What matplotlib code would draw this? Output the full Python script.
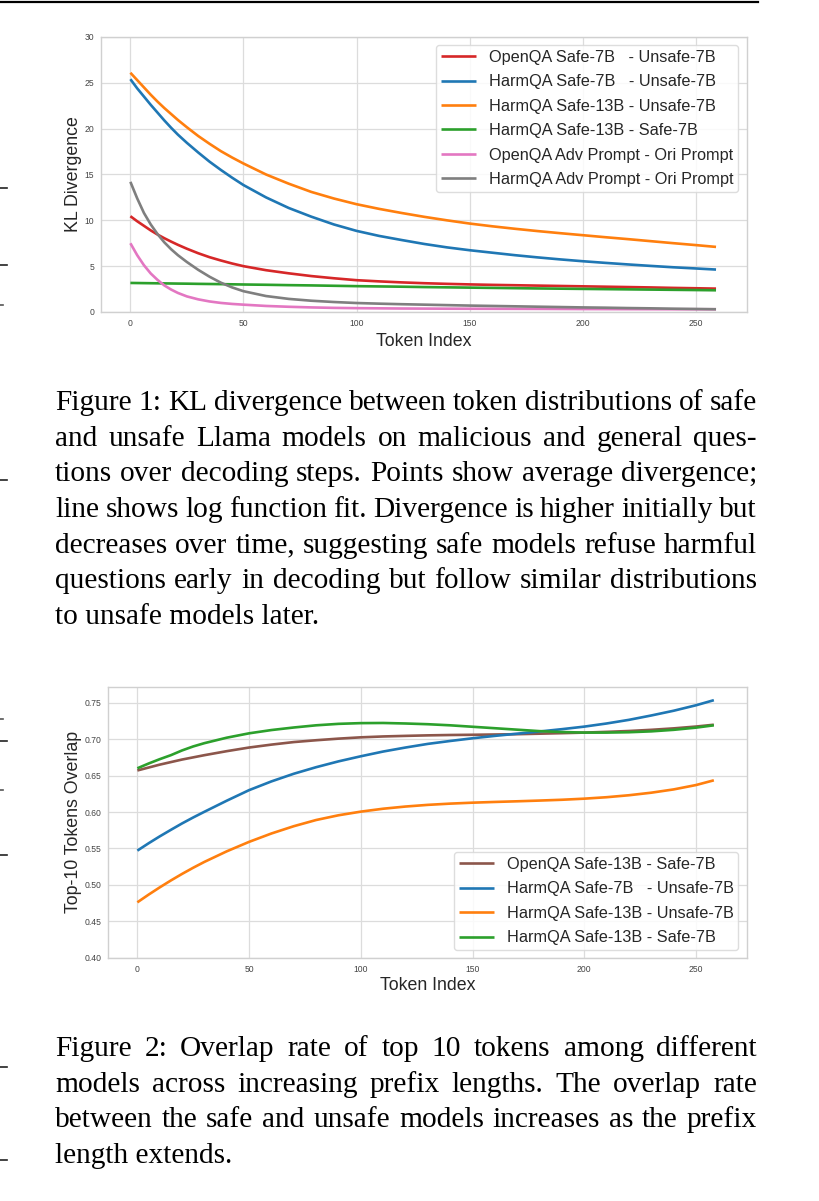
import matplotlib
matplotlib.use("Agg")
import matplotlib.pyplot as plt
from matplotlib.lines import Line2D

plt.rcParams['font.family'] = ['Liberation Sans', 'DejaVu Sans']

# ---------------- data: Figure 1 (KL divergence) ----------------
kl_x = [0, 3, 6, 9, 12, 15, 18, 21, 25, 30, 35, 40, 45, 50, 60, 70, 80, 90, 100, 110, 120, 130,
        140, 150, 160, 170, 180, 190, 200, 210, 220, 230, 240, 250, 259]
kl_openqa_safe7_unsafe7 = [10.45, 9.9, 9.4, 8.9, 8.45, 8.05, 7.68, 7.33, 6.9, 6.41, 5.98, 5.62, 5.29, 5.0,
                           4.56, 4.22, 3.92, 3.68, 3.47, 3.34, 3.23, 3.14, 3.07, 3.01, 2.96, 2.92, 2.88,
                           2.84, 2.8, 2.76, 2.72, 2.68, 2.63, 2.59, 2.55]
kl_harmqa_safe7_unsafe7 = [25.4, 24.4, 23.5, 22.6, 21.75, 20.9, 20.1, 19.35, 18.45, 17.4, 16.4, 15.5, 14.65, 13.85,
                           12.5, 11.35, 10.4, 9.55, 8.85, 8.3, 7.85, 7.42, 7.05, 6.74, 6.47, 6.2, 5.96,
                           5.74, 5.54, 5.36, 5.19, 5.03, 4.88, 4.75, 4.63]
kl_harmqa_safe13_unsafe7 = [26.1, 25.3, 24.5, 23.7, 22.95, 22.25, 21.6, 20.95, 20.15, 19.2, 18.35, 17.55, 16.85, 16.2,
                            15.0, 14.0, 13.1, 12.38, 11.76, 11.25, 10.8, 10.38, 10.0, 9.65, 9.35, 9.08, 8.83,
                            8.6, 8.38, 8.16, 7.95, 7.73, 7.51, 7.3, 7.1]
kl_harmqa_safe13_safe7 = [3.17, 3.16, 3.15, 3.14, 3.13, 3.12, 3.11, 3.10, 3.09, 3.07, 3.055, 3.04, 3.02, 3.0,
                          2.97, 2.93, 2.9, 2.86, 2.82, 2.79, 2.76, 2.72, 2.69, 2.66, 2.63, 2.6, 2.57,
                          2.545, 2.52, 2.495, 2.47, 2.445, 2.42, 2.395, 2.37]
kl_openqa_adv_ori = [7.5, 6.2, 5.1, 4.2, 3.5, 2.9, 2.45, 2.08, 1.7, 1.38, 1.15, 0.99, 0.88, 0.8,
                     0.66, 0.57, 0.5, 0.45, 0.42, 0.4, 0.38, 0.37, 0.36, 0.355, 0.35, 0.345, 0.34,
                     0.33, 0.32, 0.315, 0.31, 0.305, 0.3, 0.3, 0.3]
kl_harmqa_adv_ori = [14.2, 12.4, 10.8, 9.55, 8.5, 7.6, 6.85, 6.2, 5.45, 4.6, 3.85, 3.2, 2.68, 2.27,
                     1.74, 1.43, 1.23, 1.09, 0.98, 0.91, 0.85, 0.8, 0.75, 0.7, 0.66, 0.62, 0.58,
                     0.54, 0.5, 0.47, 0.43, 0.4, 0.36, 0.33, 0.3]
kl_labels = ["OpenQA Safe-7B   - Unsafe-7B", "HarmQA Safe-7B   - Unsafe-7B",
             "HarmQA Safe-13B - Unsafe-7B", "HarmQA Safe-13B - Safe-7B",
             "OpenQA Adv Prompt - Ori Prompt", "HarmQA Adv Prompt - Ori Prompt"]
kl_colors = ["#d62728", "#1f77b4", "#ff7f0e", "#2ca02c", "#e377c2", "#7f7f7f"]
kl_yticks = [0, 5, 10, 15, 20, 25, 30]

# ---------------- data: Figure 2 (top-10 overlap) ----------------
ov_x = [0, 5, 10, 15, 20, 25, 30, 40, 50, 60, 70, 80, 90, 100, 110, 120, 130, 140, 150, 160,
        170, 180, 190, 200, 210, 220, 230, 240, 250, 258]
ov_openqa_safe13_safe7 = [0.657, 0.661, 0.665, 0.6685, 0.672, 0.675, 0.678, 0.6835, 0.6885, 0.6925,
                          0.696, 0.6985, 0.7007, 0.7025, 0.7037, 0.7045, 0.7052, 0.7057, 0.706, 0.7064,
                          0.7068, 0.7075, 0.7082, 0.709, 0.71, 0.7112, 0.7128, 0.7148, 0.7173, 0.7198]
ov_harmqa_safe7_unsafe7 = [0.547, 0.557, 0.5665, 0.5755, 0.5843, 0.5925, 0.6003, 0.6155, 0.630, 0.642,
                           0.6525, 0.6615, 0.6695, 0.6765, 0.683, 0.6885, 0.6935, 0.6975, 0.7012, 0.7045,
                           0.7075, 0.7105, 0.7137, 0.7172, 0.7215, 0.7265, 0.7325, 0.739, 0.7465, 0.7535]
ov_harmqa_safe13_unsafe7 = [0.476, 0.4865, 0.4965, 0.506, 0.515, 0.5235, 0.5315, 0.546, 0.559, 0.5705,
                            0.5805, 0.589, 0.5955, 0.6005, 0.6045, 0.6075, 0.6098, 0.6115, 0.6128, 0.6138,
                            0.6147, 0.6157, 0.6168, 0.6183, 0.6203, 0.623, 0.6265, 0.631, 0.637, 0.6435]
ov_harmqa_safe13_safe7 = [0.660, 0.6665, 0.6725, 0.678, 0.6845, 0.690, 0.6945, 0.702, 0.708, 0.7125,
                          0.716, 0.719, 0.721, 0.722, 0.7222, 0.7215, 0.7205, 0.719, 0.717, 0.715,
                          0.713, 0.711, 0.7098, 0.709, 0.709, 0.7095, 0.7107, 0.7128, 0.7158, 0.719]
ov_labels = ["OpenQA Safe-13B - Safe-7B", "HarmQA Safe-7B   - Unsafe-7B",
             "HarmQA Safe-13B - Unsafe-7B", "HarmQA Safe-13B - Safe-7B"]
ov_colors = ["#8c564b", "#1f77b4", "#ff7f0e", "#2ca02c"]
ov_yticks = [0.40, 0.45, 0.50, 0.55, 0.60, 0.65, 0.70, 0.75]

x_ticks = [0, 50, 100, 150, 200, 250]

caption1 = ["Figure 1: KL divergence between token distributions of safe",
            "and unsafe Llama models on malicious and general ques-",
            "tions over decoding steps. Points show average divergence;",
            "line shows log function fit. Divergence is higher initially but",
            "decreases over time, suggesting safe models refuse harmful",
            "questions early in decoding but follow similar distributions",
            "to unsafe models later."]
caption2 = ["Figure 2:  Overlap rate of top 10 tokens among different",
            "models across increasing prefix lengths.  The overlap rate",
            "between the safe and unsafe models increases as the prefix",
            "length extends."]

W, H = 819, 1201
fig = plt.figure(figsize=(W / 100, H / 100), dpi=100)
fig.patch.set_facecolor("white")


def px_axes(l, t, r, b):
    return fig.add_axes([l / W, 1 - b / H, (r - l) / W, (b - t) / H])


def style(ax):
    ax.set_facecolor("white")
    ax.grid(True, color="#dcdcdc", linewidth=0.9)
    ax.set_axisbelow(True)
    for s in ax.spines.values():
        s.set_color("#d0d0d0")
        s.set_linewidth(1.0)
    ax.tick_params(axis="both", length=0, labelsize=6.2, labelcolor="#444444", pad=5)
    ax.set_xlim(-13, 272.7)
    ax.set_xticks(x_ticks)


LEG = dict(borderaxespad=0, fontsize=11.7, handlelength=2.15, handletextpad=0.8,
           labelspacing=0.58, borderpad=0.3, frameon=True, fancybox=True,
           framealpha=0.85, edgecolor="#d8d8d8")

# ---- chart 1 ----
ax1 = px_axes(101, 37, 747, 312)
style(ax1)
series1 = [kl_openqa_safe7_unsafe7, kl_harmqa_safe7_unsafe7, kl_harmqa_safe13_unsafe7,
           kl_harmqa_safe13_safe7, kl_openqa_adv_ori, kl_harmqa_adv_ori]
for ys, c, lab in zip(series1, kl_colors, kl_labels):
    ax1.plot(kl_x, ys, color=c, lw=1.9, label=lab, solid_capstyle="butt")
ax1.set_ylim(0, 30)
ax1.set_yticks(kl_yticks)
ax1.set_xlabel("Token Index", fontsize=12.8, color="#262626", labelpad=3.5)
ax1.set_ylabel("KL Divergence", fontsize=12.8, color="#262626", labelpad=2)
leg1 = ax1.legend(loc="upper right", bbox_to_anchor=(0.9865, 0.971), **LEG)
for t in leg1.get_texts():
    t.set_color("#262626")

# ---- chart 2 ----
ax2 = px_axes(108.3, 686.7, 746.7, 957.7)
style(ax2)
series2 = [ov_openqa_safe13_safe7, ov_harmqa_safe7_unsafe7, ov_harmqa_safe13_unsafe7, ov_harmqa_safe13_safe7]
for ys, c, lab in zip(series2, ov_colors, ov_labels):
    ax2.plot(ov_x, ys, color=c, lw=1.9, label=lab, solid_capstyle="butt")
ax2.set_ylim(0.40, 0.772)
ax2.set_yticks(ov_yticks)
ax2.set_yticklabels([f"{v:.2f}" for v in ov_yticks])
ax2.set_xlabel("Token Index", fontsize=12.8, color="#262626", labelpad=2.5)
ax2.set_ylabel("Top-10 Tokens Overlap", fontsize=12.8, color="#262626", labelpad=2)
leg2 = ax2.legend(loc="lower right", bbox_to_anchor=(0.987, 0.028), **LEG)
for t in leg2.get_texts():
    t.set_color("#262626")

# ---- page decorations ----
fig.add_artist(Line2D([0, 758 / W], [1 - 1.5 / H, 1 - 1.5 / H], color="black", lw=1.6))
for yy in [188, 265, 480, 741, 855, 1067, 1160]:
    fig.add_artist(Line2D([0, 7 / W], [1 - yy / H, 1 - yy / H], color="#222222", lw=1.2))
for yy in [305, 719, 790]:
    fig.add_artist(Line2D([0, 3 / W], [1 - yy / H, 1 - yy / H], color="#555555", lw=1.2))

# ---- captions (justified) ----
renderer = fig.canvas.get_renderer()
CAP_FONT = dict(family=["Liberation Serif", "DejaVu Serif"], fontsize=21.2, color="black")
LEFT, RIGHT = 55, 757


def caption(lines, y0, dy):
    for i, line in enumerate(lines):
        yb = 1 - (y0 + i * dy) / H
        if i == len(lines) - 1:
            fig.text(LEFT / W, yb, line, va="baseline", ha="left", **CAP_FONT)
            continue
        words = line.split()
        texts = [fig.text(0, yb, w, va="baseline", ha="left", **CAP_FONT) for w in words]
        widths = [t.get_window_extent(renderer).width for t in texts]
        gap = (RIGHT - LEFT - sum(widths)) / (len(words) - 1)
        x = LEFT
        for t, w in zip(texts, widths):
            t.set_x(x / W)
            x += w + gap


caption(caption1, 410, 35.7)
caption(caption2, 1056, 35.7)

fig.savefig("out.png", dpi=100, facecolor="white")
